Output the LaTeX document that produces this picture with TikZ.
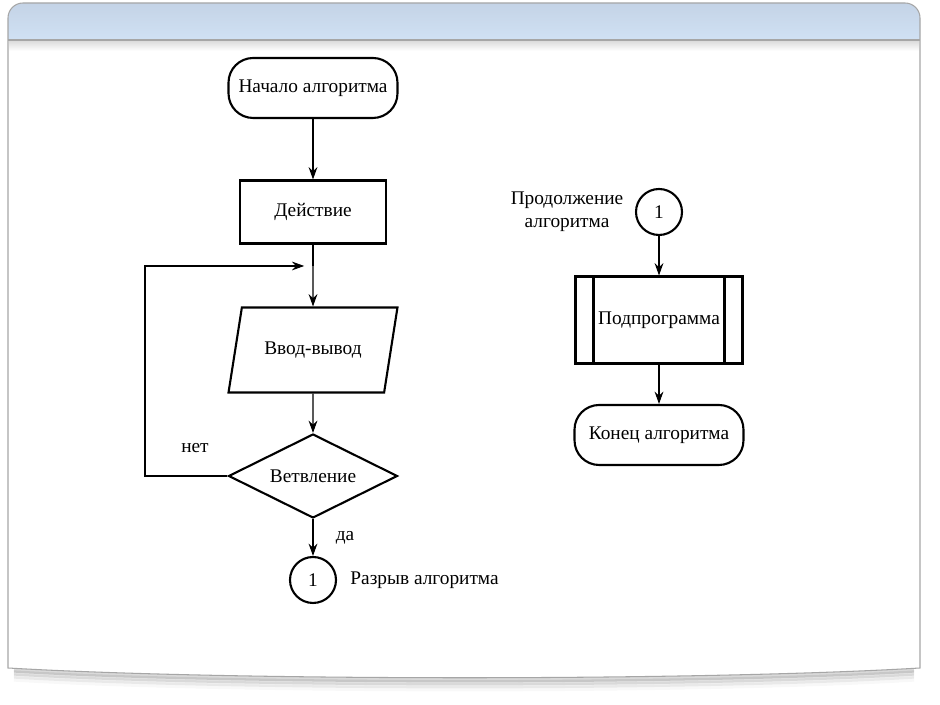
\documentclass[tikz,border=0pt]{standalone}
\usepackage{fontspec}
\setmainfont{Liberation Serif}
\newfontfamily\tmsfont{Liberation Serif}
\usetikzlibrary{positioning,shapes.geometric,arrows.meta}
\definecolor{hdrtop}{HTML}{C4D3E6}
\definecolor{hdrmid}{HTML}{87AAD4}
\definecolor{hdrbot}{HTML}{D0E1F4}

\begin{document}
\begin{tikzpicture}[x = 0.02cm, y = 0.02cm, font = \tmsfont\fontsize{11}{13}\selectfont,
                >={Stealth[length=7pt,width=5pt]},
                every path/.style = {line width = 0.6pt},
                term/.style = {draw, line width = 1.2pt, rounded corners = 14pt, minimum width = 3.38cm, minimum height = 1.2cm},
                box/.style = {draw, line width = 1.2pt, minimum width = 2.92cm, minimum height = 1.26cm},
                io/.style = {draw, line width = 1.2pt, trapezium, trapezium left angle = 70, trapezium right angle = 110, trapezium stretches = true, minimum width = 3.4cm, minimum height = 1.7cm},
                cond/.style = {draw, line width = 1.2pt, diamond, inner sep = 0pt, minimum width = 3.38cm, minimum height = 1.68cm},
                sub/.style = {draw, line width = 1.2pt, minimum width = 3.34cm, minimum height = 1.74cm},
                conn/.style = {draw, line width = 1.2pt, circle, inner sep = 0pt, minimum size = 0.92cm}]
                \useasboundingbox (0,0) rectangle (940,705);
                \foreach \d/\o in {2/.30,5/.20,8/.12,11/.06}
                    \draw[line width = 3, gray, opacity = \o] (14,37-\d) .. controls (230,24-\d) and (700,24-\d) .. (914,37-\d);
                \fill[white] (8,37) -- (8,687) arc[start angle = 180, end angle = 90, radius = 15] -- (905,702) arc[start angle = 90, end angle = 0, radius = 15] -- (920,37) .. controls (700,24) and (230,24) .. (8,37) -- cycle;
                \shade[top color = hdrtop, middle color = hdrmid, bottom color = hdrbot] (8,665) -- (8,687) arc[start angle = 180, end angle = 90, radius = 15] -- (905,702) arc[start angle = 90, end angle = 0, radius = 15] -- (920,665) -- cycle;
                \shade[top color = gray!30, bottom color = white] (9,654) rectangle (919,665);
                \draw[gray!70] (8,665) -- (920,665);
                \draw[gray!70] (8,37) -- (8,687) arc[start angle = 180, end angle = 90, radius = 15] -- (905,702) arc[start angle = 90, end angle = 0, radius = 15] -- (920,37) .. controls (700,24) and (230,24) .. (8,37) -- cycle;

                \node[term] (S) at (313,617) {Начало алгоритма};
                \node[box] (A) at (313,493) {Действие};
                \node[io] (IO) at (313,355) {Ввод-вывод};
                \node[cond, label = center:Ветвление] (B) at (313,229) {};
                \node[conn] (C1) at (313,125) {1};
                \node[right = 4pt of C1] (R) {Разрыв алгоритма};
                \node at (195,257) (N) {нет};
                \node at (345,167) (Y) {да};
                \coordinate (J) at (313,439);
                \coordinate (K) at (145,439);

                \draw [->] (S) -- (A);
                \draw (A) -- (J);
                \draw [->] (J) -- (IO);
                \draw [->] (IO) -- (B);
                \draw [->] (B) -- (C1);
                \draw [->] (B.west) -| (K) -- ([xshift=-5pt]J);

                \node[conn] (C2) at (659,493) {1};
                \node[align = center, left = 3pt of C2] (T) {Продолжение\\алгоритма};
                \node[sub] (P) at (659,385) {Подпрограмма};
                \node[term] (E) at (659,270) {Конец алгоритма};
                \draw[line width = 1.2pt] ([xshift=0.38cm]P.north west) -- ([xshift=0.38cm]P.south west);
                \draw[line width = 1.2pt] ([xshift=-0.38cm]P.north east) -- ([xshift=-0.38cm]P.south east);

                \draw [->] (C2) -- (P);
                \draw [->] (P) -- (E);
            \end{tikzpicture}
\end{document}
